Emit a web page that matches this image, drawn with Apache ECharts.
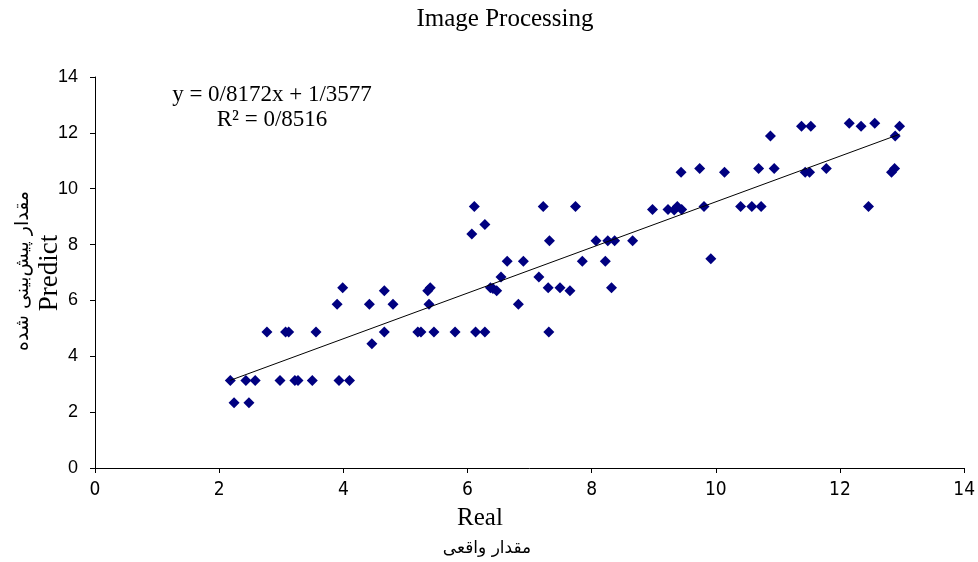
<!DOCTYPE html>
<html>
<head>
<meta charset="utf-8">
<script src="https://cdn.jsdelivr.net/npm/echarts@6/dist/echarts.min.js"></script>
<style>html,body{margin:0;padding:0;background:#fff}#c{width:978px;height:562px}</style>
</head>
<body>
<div id="c"></div>
<script>
// Real (x) values and Predict (y) values
const realValues = [
  2.24, 2.48,
  2.18, 2.43, 2.58, 2.98, 3.22, 3.27, 3.50, 3.93, 4.10,
  4.46,
  2.77, 3.07, 3.12, 3.56, 4.66, 5.20, 5.25, 5.46, 5.80, 6.13, 6.28, 7.31,
  3.90, 4.42, 4.80, 5.38, 6.82,
  4.66, 5.36, 6.47, 7.65,
  3.99, 5.40, 6.37, 6.41, 7.30, 7.49, 8.32,
  6.54, 7.15,
  6.64, 6.90, 7.85, 8.22,
  9.92,
  7.32, 8.07, 8.26, 8.37, 8.66,
  6.07,
  6.28,
  8.98, 9.23, 9.33, 9.45,
  6.11, 7.22, 7.74, 9.38, 9.81, 10.40, 10.58, 10.73, 12.46,
  9.44, 10.14, 11.44, 11.51, 12.83,
  9.74, 10.69, 10.94, 11.78, 12.88,
  10.88, 12.89,
  11.38, 11.53, 12.34, 12.96,
  12.15, 12.56
];
const predictValues = [
  2.34, 2.34,
  3.13, 3.13, 3.13, 3.13, 3.13, 3.13, 3.13, 3.13, 3.13,
  4.45,
  4.87, 4.87, 4.87, 4.87, 4.87, 4.87, 4.87, 4.87, 4.87, 4.87, 4.87, 4.87,
  5.86, 5.86, 5.86, 5.86, 5.86,
  6.35, 6.35, 6.35, 6.35,
  6.45, 6.45, 6.45, 6.43, 6.45, 6.45, 6.45,
  6.84, 6.84,
  7.40, 7.40, 7.40, 7.40,
  7.49,
  8.14, 8.14, 8.14, 8.14, 8.14,
  8.38,
  8.72,
  9.26, 9.26, 9.24, 9.26,
  9.36, 9.36, 9.36, 9.36, 9.36, 9.36, 9.36, 9.36, 9.36,
  10.59, 10.59, 10.59, 10.59, 10.59,
  10.72, 10.72, 10.72, 10.72, 10.72,
  11.89, 11.89,
  12.24, 12.24, 12.24, 12.24,
  12.34, 12.34
];
// trendline end points
const trendX = [2.18, 12.96];
const trendY = [3.14, 11.95];
const xTicks = [0, 2, 4, 6, 8, 10, 12, 14];
const yTicks = [0, 2, 4, 6, 8, 10, 12, 14];

const titleText = 'Image Processing';
const xName = 'Real';
const xNameFa = 'مقدار واقعی';
const yName = 'Predict';
const yNameFa = 'مقدار پیش‌بینی شده';
const eqLine1 = 'y = 0/8172x + 1/3577';
const eqLine2 = 'R² = 0/8516';

const points = realValues.map((x, i) => [x, predictValues[i]]);
const trend = trendX.map((x, i) => [x, trendY[i]]);

const chart = echarts.init(document.getElementById('c'), null, {renderer: 'canvas'});
const serif = '"Liberation Serif", "Times New Roman", serif';
function txt(text, x, y, font, rot) {
  return {type: 'text', x: x, y: y, rotation: rot || 0,
    style: {text: text, font: font, fill: '#000', align: 'center', verticalAlign: 'middle'}};
}
chart.setOption({
  animation: false,
  backgroundColor: '#fff',
  grid: {left: 95, right: 12, top: 77, bottom: 94, containLabel: false},
  xAxis: {
    type: 'value', min: xTicks[0], max: xTicks[xTicks.length - 1], interval: 2,
    axisLine: {show: true, onZero: false, lineStyle: {color: '#000', width: 1}},
    axisTick: {show: true, length: 5, lineStyle: {color: '#000'}},
    axisLabel: {fontFamily: '"Liberation Sans Narrow", "Arial Narrow", "DejaVu Sans Condensed", sans-serif', fontSize: 19, color: '#000', margin: 13},
    splitLine: {show: false}
  },
  yAxis: {
    type: 'value', min: yTicks[0], max: yTicks[yTicks.length - 1], interval: 2,
    axisLine: {show: true, onZero: false, lineStyle: {color: '#000', width: 1}},
    axisTick: {show: true, length: 5, lineStyle: {color: '#000'}},
    axisLabel: {fontFamily: '"Liberation Sans", Arial, sans-serif', fontSize: 18, color: '#000', margin: 17},
    splitLine: {show: false}
  },
  graphic: [
    txt(titleText, 505, 19, '25px ' + serif),
    txt(eqLine1, 272, 95, '23px ' + serif),
    txt(eqLine2, 272, 120, '23px ' + serif),
    txt(xName, 480, 518, '25px ' + serif),
    txt(xNameFa, 487, 549, '17px "DejaVu Sans"'),
    txt(yName, 50, 273, '27px ' + serif, Math.PI / 2),
    txt(yNameFa, 23, 271, '19px "DejaVu Sans"', Math.PI / 2)
  ],
  series: [
    {
      type: 'line', data: trend, symbol: 'none', silent: true,
      lineStyle: {color: '#000', width: 1}, z: 3
    },
    {
      type: 'scatter', data: points, symbol: 'diamond', symbolSize: 11,
      itemStyle: {color: '#000080', opacity: 1}, z: 2
    }
  ]
});
</script>
</body>
</html>
